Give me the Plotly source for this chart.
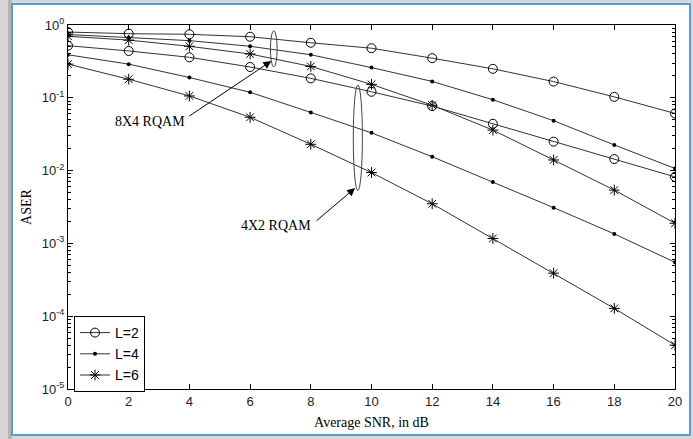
import plotly.graph_objects as go

snr = [0, 2, 4, 6, 8, 10, 12, 14, 16, 18, 20]

# 8X4 RQAM
r84_L2 = [0.80, 0.76, 0.745, 0.69, 0.57, 0.48, 0.35, 0.25, 0.167, 0.103, 0.061]
r84_L4 = [0.74, 0.67, 0.61, 0.51, 0.39, 0.26, 0.168, 0.094, 0.0485, 0.0225, 0.0107]
r84_L6 = [0.70, 0.62, 0.51, 0.40, 0.27, 0.153, 0.079, 0.036, 0.014, 0.0054, 0.00189]
# 4X2 RQAM
r42_L2 = [0.52, 0.44, 0.36, 0.265, 0.185, 0.121, 0.077, 0.044, 0.025, 0.0144, 0.0082]
r42_L4 = [0.39, 0.29, 0.19, 0.119, 0.063, 0.033, 0.0155, 0.0070, 0.0031, 0.00135, 0.00055]
r42_L6 = [0.29, 0.18, 0.106, 0.054, 0.023, 0.0094, 0.0035, 0.00117, 0.00039, 0.000128, 0.00004]

legend_names = ["L=2", "L=4", "L=6"]
ytick_vals = [1e-5, 1e-4, 1e-3, 1e-2, 1e-1, 1]
ytick_text = ["10<sup>-5</sup>", "10<sup>-4</sup>", "10<sup>-3</sup>", "10<sup>-2</sup>", "10<sup>-1</sup>", "10<sup>0</sup>"]
xticks = list(range(0, 21, 2))

minor_vals = [m * 10.0 ** e for e in range(-5, 0) for m in range(2, 10)]

LINE = "#333333"
styles = [
    dict(symbol="circle-open", size=9, color="black", line=dict(width=1, color="black")),
    dict(symbol="circle", size=4, color="black"),
    dict(symbol="asterisk-open", size=9, color="black", line=dict(width=1, color="black")),
]

fig = go.Figure()
for i, ys in enumerate([r84_L2, r84_L4, r84_L6]):
    fig.add_trace(go.Scatter(x=snr, y=ys, mode="lines+markers", name=legend_names[i],
                             line=dict(color=LINE, width=1), marker=styles[i],
                             showlegend=True))
for i, ys in enumerate([r42_L2, r42_L4, r42_L6]):
    fig.add_trace(go.Scatter(x=snr, y=ys, mode="lines+markers", name=legend_names[i],
                             line=dict(color=LINE, width=1), marker=styles[i],
                             showlegend=False))

W, H = 693, 439
L, R, T, B = 68, 18, 25, 50
pw, ph = W - L - R, H - T - B
def px2paper_x(px):
    return (px - L) / pw
def px2paper_y(py):
    return (H - B - py) / ph

# page frame (shadow + blue border)
fig.add_shape(type="rect", xref="paper", yref="paper", layer="below",
              x0=px2paper_x(0), x1=px2paper_x(8), y0=px2paper_y(439), y1=px2paper_y(0),
              fillcolor="#d6d6d6", line=dict(width=0))
fig.add_shape(type="rect", xref="paper", yref="paper", layer="below",
              x0=px2paper_x(8), x1=px2paper_x(12), y0=px2paper_y(439), y1=px2paper_y(0),
              fillcolor="#b4b4b4", line=dict(width=0))
fig.add_shape(type="rect", xref="paper", yref="paper", layer="below",
              x0=px2paper_x(12), x1=px2paper_x(690), y0=px2paper_y(435), y1=px2paper_y(4),
              fillcolor="white", line=dict(color="#5b9bd5", width=2))

# ellipses
fig.add_shape(type="circle", xref="x", yref="y", x0=6.67, x1=6.89,
              y0=10 ** -0.577, y1=10 ** -0.078, line=dict(color="#444444", width=1))
fig.add_shape(type="circle", xref="x", yref="y", x0=9.40, x1=9.70,
              y0=10 ** -2.276, y1=10 ** -0.824, line=dict(color="#444444", width=1))

serif = "Liberation Serif, Times New Roman, serif"
sans = "Liberation Sans, Arial, sans-serif"

# arrows
fig.add_annotation(x=6.70, y=-0.495, ax=3.95, ay=-1.264, xref="x", yref="y", axref="x", ayref="y",
                   text="", showarrow=True, arrowhead=2, arrowsize=1.6, arrowwidth=1, arrowcolor="black")
fig.add_annotation(x=9.46, y=-2.239, ax=8.14, ay=-2.706, xref="x", yref="y", axref="x", ayref="y",
                   text="", showarrow=True, arrowhead=2, arrowsize=1.6, arrowwidth=1, arrowcolor="black")
fig.add_annotation(x=2.70, y=-1.33, xref="x", yref="y", text="8X4 RQAM", showarrow=False,
                   font=dict(family=serif, size=14, color="black"))
fig.add_annotation(x=6.85, y=-2.76, xref="x", yref="y", text="4X2 RQAM", showarrow=False,
                   font=dict(family=serif, size=14, color="black"))

fig.update_layout(
    width=W, height=H,
    margin=dict(l=L, r=R, t=T, b=B, autoexpand=False),
    paper_bgcolor="#d8d8d8",
    plot_bgcolor="white",
    showlegend=True,
    legend=dict(x=px2paper_x(74), y=px2paper_y(316), xanchor="left", yanchor="top",
                bgcolor="white", bordercolor="black", borderwidth=1,
                font=dict(family=sans, size=14, color="black"), tracegroupgap=0),
    xaxis=dict(range=[0, 20], tickvals=xticks, ticks="inside", ticklen=5, tickcolor="black",
               showline=True, linecolor="black", linewidth=1, mirror="ticks", showgrid=False,
               zeroline=False, tickfont=dict(family=sans, size=13, color="#222"),
               title=dict(text="Average SNR, in dB", font=dict(family=serif, size=14, color="black"),
                          standoff=9)),
    yaxis=dict(type="log", range=[-5, 0], tickvals=ytick_vals, ticktext=ytick_text,
               ticks="inside", ticklen=5, tickcolor="black",
               minor=dict(tickvals=minor_vals, ticks="inside", ticklen=3, tickcolor="black"),
               showline=True, linecolor="black", linewidth=1, mirror="ticks", showgrid=False,
               zeroline=False, tickfont=dict(family=sans, size=13, color="#222"),
               title=dict(text="ASER", font=dict(family=serif, size=14, color="black"), standoff=6)),
)

fig.write_html("out.html", config={"displayModeBar": False},
               post_script="document.body.style.margin='0';document.body.style.padding='0';")
